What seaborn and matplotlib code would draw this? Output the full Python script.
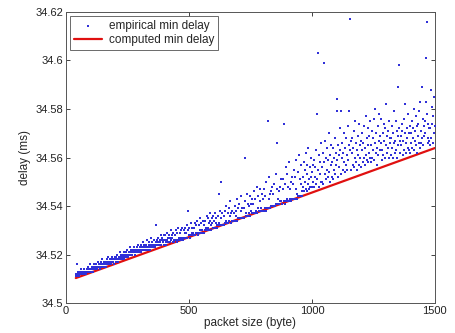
import matplotlib
matplotlib.use("Agg")
import matplotlib.pyplot as plt
import seaborn as sns
import pandas as pd

sns.set_style("ticks")
plt.rcParams['font.family'] = ['Liberation Sans', 'DejaVu Sans']

# packet sizes that were probed (bytes)
PACKET_SIZE = list(range(40, 1501, 2))

# empirical min delay, in microseconds above 34.5 ms (one row = 40 bytes)
DELAY_BASE_MS = 34.5
DELAY_US = [
    [11, 12, 16, 11, 12, 13, 11, 12, 12, 13, 12, 14, 12, 13, 12, 13, 14, 12, 13, 13],
    [13, 12, 14, 13, 15, 13, 14, 13, 14, 16, 13, 14, 15, 14, 13, 15, 14, 16, 14, 15],
    [14, 15, 16, 14, 15, 17, 15, 16, 15, 14, 16, 17, 15, 16, 18, 15, 16, 17, 16, 15],
    [16, 17, 15, 18, 16, 17, 19, 16, 17, 18, 17, 16, 18, 17, 19, 18, 17, 16, 18, 19],
    [18, 17, 19, 18, 20, 17, 18, 19, 18, 21, 19, 18, 20, 19, 18, 20, 19, 21, 18, 20],
    [19, 20, 19, 21, 20, 22, 19, 20, 21, 20, 23, 21, 20, 22, 21, 20, 22, 21, 23, 22],
    [21, 20, 22, 21, 23, 22, 21, 24, 22, 21, 23, 22, 24, 21, 23, 22, 25, 23, 22, 24],
    [22, 23, 22, 24, 23, 26, 22, 23, 25, 24, 23, 22, 24, 27, 23, 25, 24, 23, 26, 24],
    [24, 23, 25, 32, 24, 26, 25, 24, 27, 25, 24, 26, 25, 28, 24, 26, 27, 25, 26, 28],
    [24, 26, 28, 25, 24, 26, 29, 25, 27, 28, 25, 25, 27, 30, 26, 28, 27, 25, 29, 26],
    [25, 26, 28, 30, 26, 29, 25, 26, 31, 26, 27, 29, 26, 30, 27, 26, 31, 27, 26, 30],
    [27, 29, 31, 27, 27, 29, 32, 27, 38, 30, 28, 31, 27, 28, 33, 28, 29, 31, 28, 29],
    [28, 31, 28, 33, 29, 32, 29, 34, 28, 29, 32, 29, 35, 30, 29, 33, 29, 30, 34, 29],
    [29, 32, 30, 34, 30, 31, 36, 30, 31, 35, 33, 30, 34, 37, 32, 30, 35, 33, 31, 36],
    [31, 34, 31, 37, 31, 35, 33, 31, 32, 36, 32, 45, 33, 38, 32, 50, 35, 32, 37, 32],
    [32, 36, 32, 38, 33, 34, 40, 33, 33, 37, 33, 39, 34, 36, 42, 33, 37, 34, 38, 34],
    [34, 37, 34, 40, 34, 38, 36, 43, 34, 35, 39, 35, 41, 35, 35, 38, 44, 35, 39, 35],
    [35, 39, 35, 42, 60, 36, 37, 45, 36, 36, 41, 36, 37, 40, 36, 44, 38, 41, 37, 43],
    [37, 41, 37, 46, 37, 43, 37, 38, 48, 37, 39, 44, 38, 38, 42, 47, 38, 39, 45, 38],
    [38, 43, 38, 47, 39, 44, 38, 50, 39, 39, 75, 39, 43, 52, 39, 45, 40, 46, 40, 48],
    [40, 45, 40, 49, 40, 40, 53, 41, 41, 66, 47, 41, 43, 46, 41, 42, 48, 42, 51, 41],
    [41, 47, 51, 74, 42, 41, 49, 56, 42, 43, 53, 42, 48, 42, 58, 47, 43, 50, 42, 52],
    [43, 49, 43, 55, 43, 52, 43, 59, 47, 43, 45, 54, 44, 61, 44, 51, 44, 57, 49, 44],
    [46, 52, 48, 58, 46, 55, 50, 47, 62, 53, 46, 57, 49, 64, 51, 47, 56, 48, 60, 52],
    [48, 54, 50, 57, 48, 59, 52, 56, 49, 63, 78, 51, 103, 55, 48, 61, 53, 58, 50, 66],
    [50, 56, 62, 49, 99, 58, 53, 67, 51, 60, 55, 64, 52, 59, 70, 54, 61, 50, 57, 65],
    [52, 58, 64, 51, 60, 55, 68, 53, 62, 57, 79, 84, 59, 65, 52, 61, 56, 72, 63, 79],
    [53, 60, 66, 55, 62, 58, 70, 54, 64, 57, 68, 61, 55, 73, 59, 79, 65, 117, 63, 67],
    [55, 62, 68, 57, 64, 71, 56, 60, 75, 58, 66, 63, 55, 69, 61, 74, 57, 65, 60, 67],
    [56, 63, 70, 58, 66, 60, 73, 57, 64, 77, 61, 68, 59, 65, 72, 58, 62, 69, 75, 60],
    [58, 65, 71, 60, 68, 63, 76, 59, 66, 80, 62, 70, 64, 57, 73, 61, 67, 78, 63, 69],
    [76, 66, 59, 63, 70, 61, 74, 67, 60, 72, 65, 82, 62, 69, 64, 71, 60, 75, 66, 68],
    [61, 68, 64, 73, 60, 70, 66, 79, 62, 67, 75, 63, 71, 60, 69, 89, 65, 98, 72, 67],
    [62, 69, 65, 74, 71, 61, 67, 76, 63, 82, 70, 66, 62, 72, 68, 64, 78, 70, 63, 73],
    [62, 70, 66, 75, 64, 72, 68, 80, 63, 71, 67, 77, 65, 73, 62, 69, 74, 66, 79, 83],
    [64, 71, 66, 89, 68, 76, 65, 73, 69, 75, 70, 101, 83, 116, 78, 66, 74, 68, 72, 67],
    [65, 72, 88, 68, 81, 74, 66, 77, 70, 85, 73],
]

# computed min delay (straight line)
COMPUTED_SIZE = [40, 1500]
COMPUTED_DELAY = [34.5103, 34.5639]

X_TICKS = [0, 500, 1000, 1500]
Y_TICKS = [34.5, 34.52, 34.54, 34.56, 34.58, 34.6, 34.62]
Y_TICK_LABELS = ['34.5', '34.52', '34.54', '34.56', '34.58', '34.6', '34.62']

delays = [DELAY_BASE_MS + v / 1000.0 for row in DELAY_US for v in row]
assert len(delays) == len(PACKET_SIZE), (len(delays), len(PACKET_SIZE))
emp = pd.DataFrame({'size': PACKET_SIZE, 'delay': delays})
comp = pd.DataFrame({'size': COMPUTED_SIZE, 'delay': COMPUTED_DELAY})

fig = plt.figure(figsize=(4.56, 3.33), dpi=100)
ax = fig.add_axes([0.1447, 0.090, 0.809, 0.874])

sns.scatterplot(data=emp, x='size', y='delay', ax=ax, marker='s', s=3,
                color='#3030d8', linewidth=0, label='empirical min delay',
                zorder=3)
sns.lineplot(data=comp, x='size', y='delay', ax=ax, color='#e01010',
             linewidth=1.6, label='computed min delay', zorder=2)

ax.set_xlim(0, 1500)
ax.set_ylim(34.5, 34.62)
ax.set_xticks(X_TICKS)
ax.set_yticks(Y_TICKS)
ax.set_yticklabels(Y_TICK_LABELS)
ax.tick_params(direction='in', top=True, right=True, length=3, width=0.6,
               labelsize=8, colors='#222222', pad=2)
for sp in ax.spines.values():
    sp.set_visible(True)
    sp.set_linewidth(0.7)
    sp.set_color('#555555')

ax.set_xlabel('packet size (byte)', fontsize=8.5, labelpad=1)
ax.set_ylabel('delay (ms)', fontsize=8.5, labelpad=3)

leg = ax.legend(loc='upper left', fontsize=8.5, frameon=True, fancybox=False,
                handlelength=2.4, borderaxespad=0.35, borderpad=0.3,
                labelspacing=0.2, handletextpad=0.6, markerscale=1.0)
leg.get_frame().set_edgecolor('#444444')
leg.get_frame().set_linewidth(0.7)

fig.savefig('out.png', dpi=100)
